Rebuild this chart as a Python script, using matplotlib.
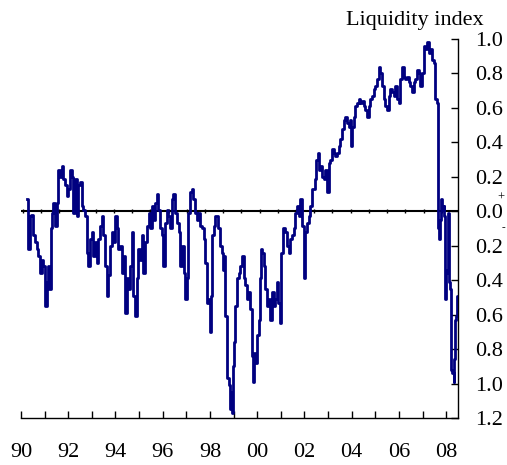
import matplotlib
matplotlib.use("Agg")
import matplotlib.pyplot as plt
import numpy as np

# liquidity index (year, value)
years = [
    1990.24, 1990.28, 1990.31, 1990.38, 1990.42, 1990.52, 1990.59, 1990.66, 1990.73, 1990.81,
    1990.88, 1990.95, 1991.02, 1991.09, 1991.16, 1991.20, 1991.26, 1991.33, 1991.37, 1991.44,
    1991.51, 1991.58, 1991.65, 1991.72, 1991.79, 1991.86, 1991.94, 1992.01, 1992.08, 1992.15,
    1992.22, 1992.29, 1992.36, 1992.43, 1992.50, 1992.57, 1992.64, 1992.71, 1992.78, 1992.85,
    1992.92, 1992.99, 1993.06, 1993.14, 1993.21, 1993.28, 1993.35, 1993.42, 1993.49, 1993.56,
    1993.63, 1993.70, 1993.77, 1993.84, 1993.91, 1993.98, 1994.05, 1994.12,
    1994.20, 1994.27, 1994.34, 1994.41, 1994.48, 1994.55, 1994.62, 1994.69, 1994.76, 1994.83,
    1994.90, 1994.97, 1995.04, 1995.11, 1995.18, 1995.25, 1995.32, 1995.40, 1995.47, 1995.54,
    1995.61, 1995.68, 1995.75, 1995.82, 1995.89, 1995.96, 1996.03, 1996.10, 1996.17, 1996.24,
    1996.31, 1996.38, 1996.45, 1996.53, 1996.60, 1996.67, 1996.74, 1996.81, 1996.88, 1996.95,
    1997.02, 1997.09, 1997.16, 1997.23, 1997.30, 1997.37, 1997.44, 1997.51, 1997.58, 1997.66,
    1997.73, 1997.80, 1997.87, 1997.94, 1997.98, 1998.04, 1998.09, 1998.15, 1998.22, 1998.29,
    1998.36, 1998.43,
    1998.50, 1998.57, 1998.60, 1998.64, 1998.71, 1998.79, 1998.83, 1998.88, 1998.93, 1998.97,
    1999.00, 1999.07, 1999.14, 1999.21, 1999.28, 1999.35, 1999.42, 1999.45, 1999.49, 1999.56,
    1999.63, 1999.70, 1999.77, 1999.82, 1999.87, 1999.92, 1999.99, 2000.06, 2000.13, 2000.17,
    2000.21, 2000.27, 2000.34, 2000.41, 2000.48, 2000.55, 2000.62, 2000.69, 2000.76, 2000.83,
    2000.90, 2000.97, 2001.02, 2001.09, 2001.19, 2001.26, 2001.33, 2001.40, 2001.47, 2001.54,
    2001.61, 2001.68, 2001.75, 2001.82, 2001.89, 2001.96, 2002.03, 2002.10, 2002.18, 2002.25,
    2002.32,
    2002.39, 2002.46, 2002.50, 2002.56, 2002.60, 2002.67, 2002.74, 2002.81, 2002.88, 2002.95,
    2003.02, 2003.09, 2003.16, 2003.23, 2003.30, 2003.38, 2003.45, 2003.52, 2003.59, 2003.66,
    2003.73, 2003.80, 2003.87, 2003.94, 2003.98, 2004.01, 2004.08, 2004.15, 2004.22, 2004.29,
    2004.36, 2004.44, 2004.51, 2004.58, 2004.65, 2004.72, 2004.79, 2004.86, 2004.93, 2005.00,
    2005.07, 2005.14, 2005.21,
    2005.28, 2005.35, 2005.42, 2005.49, 2005.56, 2005.64, 2005.71, 2005.78, 2005.85, 2005.92,
    2005.99, 2006.06, 2006.13, 2006.20, 2006.27, 2006.34, 2006.41, 2006.48, 2006.55, 2006.62,
    2006.70, 2006.77, 2006.84, 2006.91, 2006.98, 2007.05, 2007.12, 2007.19, 2007.26, 2007.33,
    2007.40, 2007.47, 2007.51, 2007.54, 2007.61, 2007.64, 2007.66, 2007.68, 2007.73, 2007.78,
    2007.82, 2007.87, 2007.90, 2007.92, 2007.94, 2007.97, 2008.01, 2008.04, 2008.08, 2008.11,
    2008.14, 2008.18, 2008.22, 2008.26, 2008.31, 2008.35, 2008.39, 2008.43, 2008.47, 2008.49,
]
values = [
    0.07, -0.085, -0.22, -0.03, -0.02, -0.14, -0.18, -0.22, -0.26, -0.36,
    -0.28, -0.32, -0.55, -0.41, -0.32, -0.45, -0.10, -0.01, 0.05, -0.085,
    0.05, 0.24, 0.20, 0.26, 0.19, 0.15, 0.09, 0.13, 0.24, 0.20,
    -0.01, 0.19, -0.03, 0.15, 0.17, 0.03, 0.01, -0.03, -0.24, -0.32,
    -0.16, -0.12, -0.26, -0.18, -0.30, -0.16, -0.085, -0.03, -0.14, -0.32,
    -0.49, -0.37, -0.20, -0.12, -0.18, -0.03, -0.10, -0.22,
    -0.20, -0.36, -0.26, -0.59, -0.39, -0.45, -0.32, -0.12, -0.49, -0.61,
    -0.39, -0.22, -0.28, -0.14, -0.36, -0.18, -0.085, -0.01, -0.10, 0.03,
    -0.05, 0.05, 0.10, 0.01, -0.10, -0.14, -0.32, -0.07, 0.01, -0.03,
    -0.10, 0.07, 0.10, -0.01, -0.07, -0.12, -0.32, -0.20, -0.36, -0.51,
    -0.39, -0.01, 0.11, 0.13, 0.07, -0.01, -0.05, -0.01, -0.085, -0.10,
    -0.16, -0.30, -0.53, -0.51, -0.70, -0.49, -0.14, -0.085, -0.03, -0.03,
    -0.10, -0.20,
    -0.24, -0.34, -0.26, -0.61, -0.97, -1.01, -1.15, -1.05, -1.17, -0.90,
    -0.76, -0.55, -0.39, -0.36, -0.32, -0.26, -0.26, -0.39, -0.43, -0.51,
    -0.47, -0.57, -0.84, -0.99, -0.82, -0.88, -0.72, -0.63, -0.39, -0.22,
    -0.24, -0.32, -0.45, -0.55, -0.51, -0.63, -0.47, -0.55, -0.51, -0.41,
    -0.53, -0.65, -0.24, -0.10, -0.12, -0.20, -0.24, -0.16, -0.14, -0.10,
    -0.01, 0.03, -0.03, 0.07, -0.085, -0.39, -0.12, -0.07, -0.03, 0.03,
    0.13,
    0.13, 0.19, 0.30, 0.34, 0.24, 0.26, 0.20, 0.19, 0.24, 0.11,
    0.28, 0.30, 0.36, 0.34, 0.32, 0.34, 0.38, 0.42, 0.48, 0.53,
    0.55, 0.51, 0.49, 0.53, 0.38, 0.49, 0.55, 0.61, 0.63, 0.65,
    0.63, 0.64, 0.61, 0.59, 0.55, 0.61, 0.65, 0.67, 0.71, 0.73,
    0.77, 0.84, 0.80,
    0.73, 0.65, 0.61, 0.59, 0.67, 0.71, 0.69, 0.67, 0.73, 0.65,
    0.63, 0.77, 0.84, 0.78, 0.77, 0.78, 0.75, 0.73, 0.69, 0.75,
    0.77, 0.82, 0.80, 0.73, 0.80, 0.96, 0.94, 0.98, 0.92, 0.94,
    0.88, 0.86, 0.78, 0.65, 0.63, 0.61, -0.10, -0.16, -0.05, 0.07,
    0.01, 0.01, 0.03, -0.03, -0.34, -0.51, -0.36, -0.34, -0.01, -0.01,
    -0.41, -0.45, -0.92, -0.94, -0.99, -0.86, -0.63, -0.61, -0.49, -0.57,
]

x_labels = ['90', '92', '94', '96', '98', '00', '02', '04', '06', '08']
y_ticks = [-1.2, -1.0, -0.8, -0.6, -0.4, -0.2, 0.0, 0.2, 0.4, 0.6, 0.8, 1.0]

plt.rcParams['font.family'] = ['Liberation Serif', 'DejaVu Serif']
plt.rcParams['font.size'] = 16

fig = plt.figure(figsize=(5.07, 4.65), dpi=100)
ax = fig.add_axes([21 / 507, 1 - 418 / 465, 437 / 507, 379 / 465])

ax.plot(years, values, color='#000080', lw=2.0, drawstyle='steps-post', zorder=3)
ax.axhline(0, color='black', lw=1.5, zorder=2)
# little marks along the zero line
zmarks = np.arange(1990.08, 2008.5, 0.771)
ax.plot(zmarks, np.zeros_like(zmarks), ls='none', marker='|', ms=3, color='black', mew=1, zorder=2)

ax.set_xlim(1990, 2008.5)
ax.set_ylim(-1.2, 1.0)

ax.spines['left'].set_visible(False)
ax.spines['top'].set_visible(False)
ax.spines['bottom'].set_linewidth(1)
ax.spines['right'].set_linewidth(1)

ax.set_xticks(np.arange(1990, 2009, 1))
ax.set_xticklabels([x_labels[(y - 1990) // 2] if (y - 1990) % 2 == 0 else '' for y in range(1990, 2009)])
ax.tick_params(axis='x', direction='in', length=5, width=1, pad=18)

ax.yaxis.tick_right()
ax.set_yticks(y_ticks)
ax.set_yticklabels(['%.1f' % abs(v) for v in y_ticks])
ax.tick_params(axis='y', direction='in', length=5, width=1, pad=12)

fig.text(484 / 507, 1 - 25 / 465, 'Liquidity index', ha='right', va='baseline', fontsize=16)
fig.text(501 / 507, 1 - 198 / 465, '+', ha='center', va='center', fontsize=9)
fig.text(503 / 507, 1 - 228 / 465, '-', ha='center', va='center', fontsize=8)

fig.savefig('out.png', dpi=100)
